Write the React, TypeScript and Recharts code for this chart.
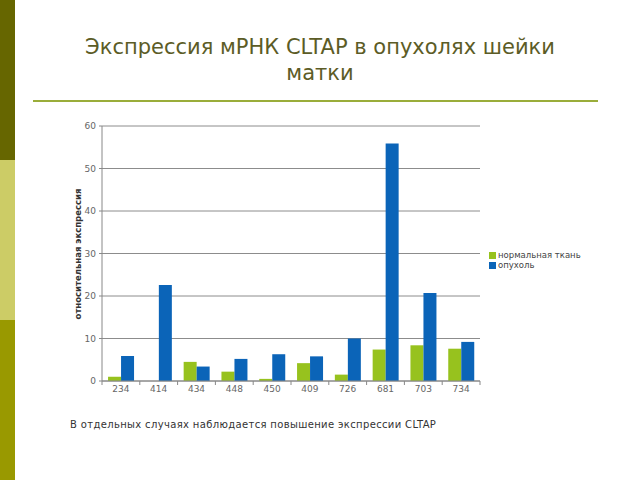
import React from 'react';
import { BarChart, Bar, XAxis, YAxis, CartesianGrid } from 'recharts';

const categories = ['234', '414', '434', '448', '450', '409', '726', '681', '703', '734'];
const normalTissue = [1.0, 0, 4.5, 2.2, 0.5, 4.2, 1.5, 7.4, 8.4, 7.6];
const tumor = [5.9, 22.6, 3.4, 5.2, 6.3, 5.8, 10.0, 55.9, 20.7, 9.2];
const yTicks = [0, 10, 20, 30, 40, 50, 60];
const seriesNames = ['нормальная ткань', 'опухоль'];
const seriesColors = ['#97c21e', '#0b64b8'];
const title = 'Экспрессия мРНК CLTAP в опухолях шейки матки';
const yLabel = 'относительная экспрессия';
const note = 'В отдельных случаях наблюдается повышение экспрессии CLTAP';

const data = categories.map((c, i) => ({ name: c, normal: normalTissue[i], tumor: tumor[i] }));

const FONT = '"DejaVu Sans", Verdana, sans-serif';

const XTick = (props: any) => {
  const { x, y, payload, index } = props;
  const half = payload && payload.offset ? payload.offset : 0;
  const axisY = y - 5;
  return (
    <g>
      <line x1={x - half} x2={x - half} y1={axisY} y2={axisY + 4} stroke="#888" />
      {index === categories.length - 1 && (
        <line x1={x + half} x2={x + half} y1={axisY} y2={axisY + 4} stroke="#888" />
      )}
      <text x={x} y={y} dy="0.71em" textAnchor="middle" fontSize={9} fill="#666" fontFamily={FONT}>
        {payload.value}
      </text>
    </g>
  );
};

export default function App() {
  return (
    <div style={{ position: 'absolute', left: 0, top: 0, width: 640, height: 480, background: '#fff', overflow: 'hidden', fontFamily: FONT }}>
      <div style={{ position: 'absolute', left: 0, top: 0, width: 15, height: 160, background: '#666600' }} />
      <div style={{ position: 'absolute', left: 0, top: 160, width: 15, height: 160, background: '#cccc66' }} />
      <div style={{ position: 'absolute', left: 0, top: 320, width: 15, height: 160, background: '#999900' }} />
      <div style={{ position: 'absolute', left: 70, top: 34, width: 500, textAlign: 'center', fontSize: 21, lineHeight: '26px', color: '#5c5c26' }}>
        {title}
      </div>
      <div style={{ position: 'absolute', left: 33, top: 100, width: 565, height: 2, background: '#9aad3a' }} />
      <div style={{ position: 'absolute', left: 0, top: 0 }}>
        <BarChart
          width={640}
          height={480}
          data={data}
          margin={{ top: 126, right: 160, bottom: 79, left: 72 }}
          barCategoryGap="16%"
          barGap={0}
        >
          <CartesianGrid vertical={false} stroke="#8c8c8c" />
          <XAxis
            dataKey="name"
            height={20}
            stroke="#888"
            tickLine={false}
            tickSize={4}
            tickMargin={1}
            tick={<XTick />}
            interval={0}
          />
          <YAxis
            width={30}
            domain={[0, 60]}
            ticks={yTicks}
            stroke="#888"
            tickSize={3}
            tickMargin={3}
            tick={{ fontSize: 9, fill: '#666', fontFamily: FONT }}
          />
          <Bar dataKey="normal" name={seriesNames[0]} fill={seriesColors[0]} isAnimationActive={false} />
          <Bar dataKey="tumor" name={seriesNames[1]} fill={seriesColors[1]} isAnimationActive={false} />
        </BarChart>
      </div>
      <div
        style={{
          position: 'absolute', left: 78, top: 254, transform: 'translate(-50%, -50%) rotate(-90deg)',
          whiteSpace: 'nowrap', fontSize: 8.5, fontWeight: 'bold', color: '#333',
        }}
      >
        {yLabel}
      </div>
      <div style={{ position: 'absolute', left: 489, top: 250, fontSize: 8.5, color: '#444' }}>
        {seriesNames.map((n, i) => (
          <div key={n} style={{ display: 'flex', alignItems: 'center', height: 10 }}>
            <span style={{ display: 'inline-block', width: 7, height: 7, background: seriesColors[i], marginRight: 2 }} />
            <span>{n}</span>
          </div>
        ))}
      </div>
      <div style={{ position: 'absolute', left: 70, top: 419, fontSize: 10, letterSpacing: '0.35px', color: '#333', whiteSpace: 'nowrap' }}>
        {note}
      </div>
    </div>
  );
}
